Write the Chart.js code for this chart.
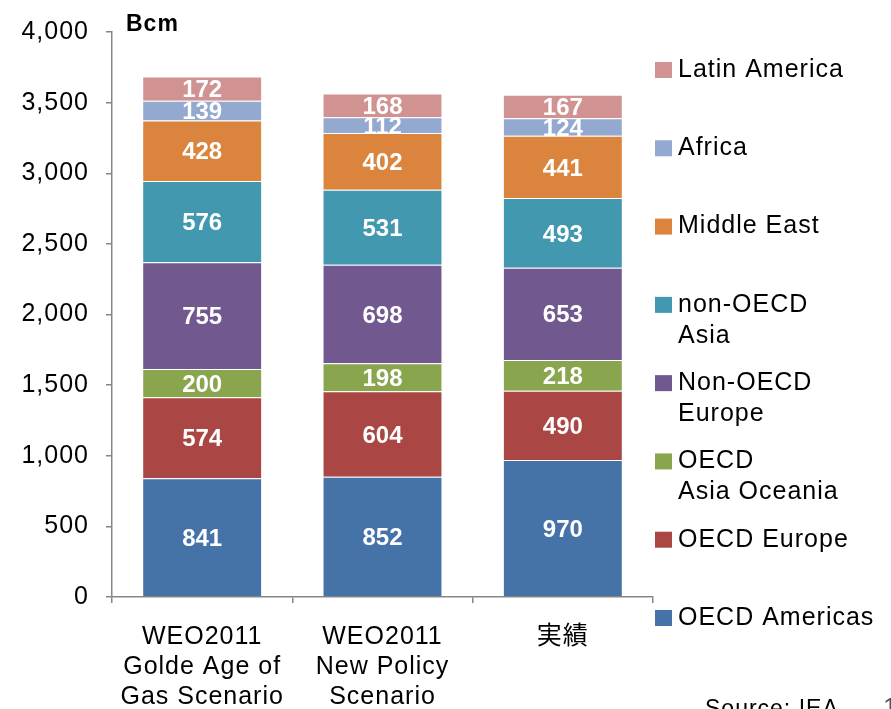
<!DOCTYPE html>
<html>
<head>
<meta charset="utf-8">
<script src="https://cdn.jsdelivr.net/npm/chart.js@4"></script>
<style>
    html, body { margin: 0; padding: 0; background: #fff; }
    #wrap { width: 891px; height: 709px; }
</style>
</head>
<body>
<div id="wrap"><canvas id="chart" width="891" height="709"></canvas></div>
<script>
const categories = [
    ["WEO2011", "Golde Age of", "Gas Scenario"],
    ["WEO2011", "New Policy", "Scenario"],
    ["実績"]
];
const oecdAmericas = [841, 852, 970];
const oecdEurope = [574, 604, 490];
const oecdAsiaOceania = [200, 198, 218];
const nonOecdEurope = [755, 698, 653];
const nonOecdAsia = [576, 531, 493];
const middleEast = [428, 402, 441];
const africa = [139, 112, 124];
const latinAmerica = [172, 168, 167];
const yTicks = [0, 500, 1000, 1500, 2000, 2500, 3000, 3500, 4000];

const FONT = "'Liberation Sans', Arial, 'Noto Sans CJK JP', sans-serif";
const AXIS_GREY = "#868686";

const series = [
    { label: "OECD Americas", data: oecdAmericas, color: "#4572A7" },
    { label: "OECD Europe", data: oecdEurope, color: "#AA4643" },
    { label: "OECD\nAsia Oceania", data: oecdAsiaOceania, color: "#89A54E" },
    { label: "Non-OECD\nEurope", data: nonOecdEurope, color: "#71588F" },
    { label: "non-OECD\nAsia", data: nonOecdAsia, color: "#4198AF" },
    { label: "Middle East", data: middleEast, color: "#DB843D" },
    { label: "Africa", data: africa, color: "#93A9CF" },
    { label: "Latin America", data: latinAmerica, color: "#D19392" }
];

// canvas resets its state on resize, so put the spacing back before layout and drawing
const spacing = {
    id: "spacing",
    beforeLayout(chart) { chart.ctx.letterSpacing = "1px"; },
    beforeDraw(chart) { chart.ctx.letterSpacing = "1px"; }
};

const segmentLabels = {
    id: "segmentLabels",
    afterDatasetsDraw(chart) {
        const ctx = chart.ctx;
        ctx.save();
        ctx.letterSpacing = "0px";
        ctx.font = "bold 24px " + FONT;
        ctx.fillStyle = "#ffffff";
        ctx.textAlign = "center";
        ctx.textBaseline = "middle";
        chart.data.datasets.forEach((ds, i) => {
            chart.getDatasetMeta(i).data.forEach((bar, j) => {
                const y = (bar.y + bar.base) / 2 + 2;
                ctx.fillText(String(ds.data[j]), bar.x, y);
            });
        });
        ctx.restore();
    }
};

const extras = {
    id: "extras",
    afterDraw(chart) {
        const ctx = chart.ctx;
        const area = chart.chartArea;
        ctx.save();
        ctx.letterSpacing = "1px";
        ctx.textBaseline = "alphabetic";
        ctx.textAlign = "left";

        // unit label
        ctx.font = "bold 23px " + FONT;
        ctx.fillStyle = "#000";
        ctx.fillText("Bcm", area.left + 14, area.top - 1);

        // legend, top item first
        const items = chart.data.datasets.slice().reverse();
        const top = area.top + 38;
        const step = (area.bottom + 21 - top) / (items.length - 1);
        ctx.font = "25px " + FONT;
        items.forEach((ds, k) => {
            const y = top + k * step;
            ctx.fillStyle = ds.backgroundColor;
            ctx.fillRect(area.right + 2, y - 8, 17, 16);
            ctx.fillStyle = "#000";
            ctx.textBaseline = "middle";
            ds.label.split("\n").forEach((line, n) => {
                ctx.fillText(line, area.right + 25, y + n * 31);
            });
        });

        // source note
        ctx.textBaseline = "alphabetic";
        ctx.font = "23px " + FONT;
        ctx.fillText("Source: IEA", 705, 716);
        ctx.fillStyle = "#555";
        ctx.font = "26px " + FONT;
        ctx.fillText("1", 883, 716);
        ctx.restore();
    }
};

window.onload = function () {
    const ctx = document.getElementById("chart").getContext("2d");
    new Chart(ctx, {
        type: "bar",
        data: {
            labels: categories,
            datasets: series.map(s => ({
                label: s.label,
                data: s.data,
                backgroundColor: s.color,
                borderColor: "rgba(255,255,255,0.45)",
                borderWidth: 1,
                barPercentage: 0.665,
                categoryPercentage: 1
            }))
        },
        options: {
            responsive: false,
            animation: false,
            events: [],
            layout: { padding: { top: 29, right: 238, left: 0, bottom: 0 } },
            plugins: {
                legend: { display: false },
                tooltip: { enabled: false }
            },
            scales: {
                x: {
                    stacked: true,
                    afterFit(scale) { scale.height = 112; },
                    border: { color: AXIS_GREY, width: 1.5 },
                    grid: {
                        drawOnChartArea: false,
                        color: AXIS_GREY,
                        lineWidth: 1.5,
                        tickLength: 6
                    },
                    ticks: {
                        color: "#000",
                        padding: 19,
                        maxRotation: 0,
                        font: { family: FONT, size: 25, lineHeight: "30px" }
                    }
                },
                y: {
                    stacked: true,
                    min: yTicks[0],
                    max: yTicks[yTicks.length - 1],
                    afterFit(scale) { scale.width = 112; },
                    afterBuildTicks(scale) { scale.ticks = yTicks.map(v => ({ value: v })); },
                    border: { color: AXIS_GREY, width: 1.5 },
                    grid: {
                        drawOnChartArea: false,
                        color: AXIS_GREY,
                        lineWidth: 1.5,
                        tickLength: 6
                    },
                    ticks: {
                        color: "#000",
                        padding: 17,
                        font: { family: FONT, size: 25 },
                        callback: v => v.toLocaleString("en-US")
                    }
                }
            }
        },
        plugins: [spacing, segmentLabels, extras]
    });
};
</script>
</body>
</html>
